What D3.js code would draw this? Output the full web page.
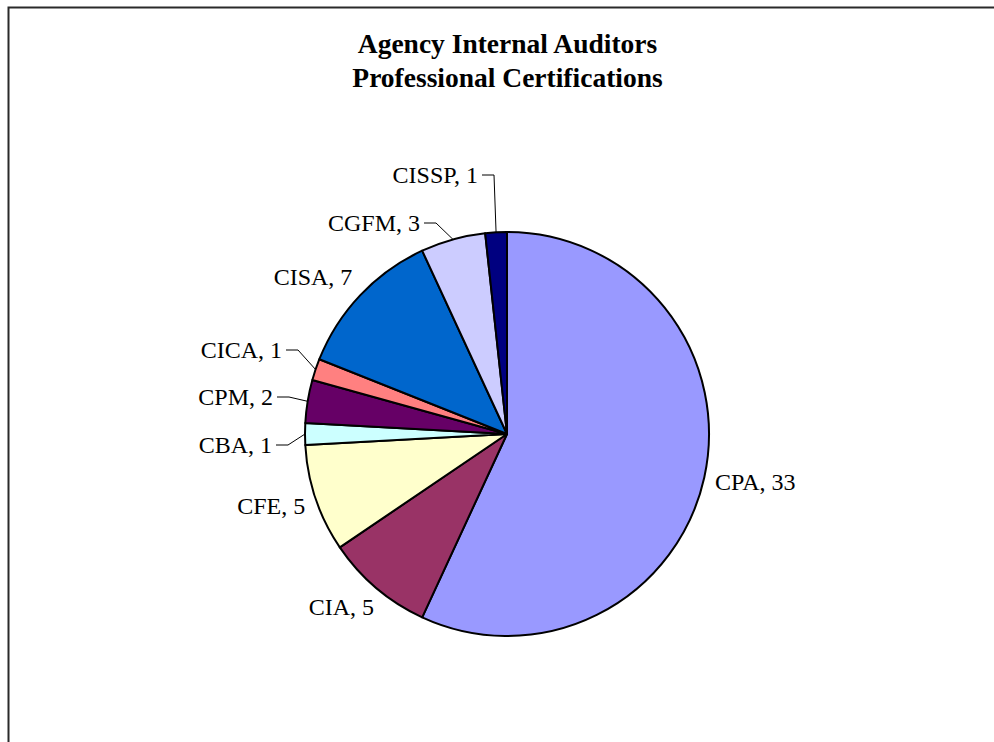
<!DOCTYPE html>
<html>
<head>
<meta charset="utf-8">
<script src="https://cdn.jsdelivr.net/npm/d3@7"></script>
<style>
  html, body { margin: 0; padding: 0; background: #fff; }
  svg { display: block; }
  text { font-family: "Liberation Serif", "Times New Roman", serif; fill: #000; }
</style>
</head>
<body>
<svg id="chart" width="994" height="742"></svg>
<script>
// Certification counts, in slice order (clockwise from 12 o'clock)
const categories = ["CPA", "CIA", "CFE", "CBA", "CPM", "CICA", "CISA", "CGFM", "CISSP"];
const counts     = [33, 5, 5, 1, 2, 1, 7, 3, 1];
const colors     = ["#9999FF", "#993366", "#FFFFCC", "#CCFFFF", "#660066", "#FF8080", "#0066CC", "#CCCCFF", "#000080"];
const titleLines = ["Agency Internal Auditors", "Professional Certifications"];

// Labels that were pulled away from their slices get a leader line;
// value = right end of the label text relative to the pie centre.
const pulledLabels = {
  CBA:   [-235, 11],
  CPM:   [-234, -37],
  CICA:  [-225, -84],
  CGFM:  [-87, -211],
  CISSP: [-29, -259]
};

const svg = d3.select("#chart");
const W = 994, H = 742;
const cx = 507, cy = 434, radius = 202;

// chart-area frame (runs off the right and bottom edges)
svg.append("rect")
  .attr("x", 8.5).attr("y", 7.5)
  .attr("width", 1000).attr("height", 800)
  .attr("fill", "none").attr("stroke", "#2a2a2a").attr("stroke-width", 2);

// title
svg.append("g").selectAll("text").data(titleLines).join("text")
  .attr("x", 507.5)
  .attr("y", (d, i) => 53 + i * 34)
  .attr("text-anchor", "middle")
  .attr("font-size", 27.5)
  .attr("font-weight", "bold")
  .text(d => d);

const data = categories.map((c, i) => ({ name: c, value: counts[i], color: colors[i] }));
const pie = d3.pie().value(d => d.value).sort(null);
const arcs = pie(data);
const arc = d3.arc().innerRadius(0).outerRadius(radius);

const g = svg.append("g").attr("transform", `translate(${cx},${cy})`);

g.selectAll("path.slice").data(arcs).join("path")
  .attr("class", "slice")
  .attr("d", arc)
  .attr("fill", d => d.data.color)
  .attr("stroke", "#000")
  .attr("stroke-width", 2)
  .attr("stroke-linejoin", "round");

// data labels
const fontSize = 24;
const lab = g.append("g");
arcs.forEach(a => {
  const mid = (a.startAngle + a.endAngle) / 2;
  const dx = Math.sin(mid), dy = -Math.cos(mid);
  const t = lab.append("text")
    .attr("font-size", fontSize)
    .text(`${a.data.name}, ${a.data.value}`);
  const w = t.node().getComputedTextLength();
  const h = 22;
  const pulled = pulledLabels[a.data.name];
  if (pulled) {
    const [rx, ry] = pulled;
    t.attr("x", rx).attr("y", ry + 8).attr("text-anchor", "end");
    // leader: short horizontal tick, then to the slice's outer midpoint
    const ex = dx * radius, ey = dy * radius;
    lab.append("path")
      .attr("d", d3.line()([[rx + 4, ry], [rx + 16, ry], [ex, ey]]))
      .attr("fill", "none").attr("stroke", "#000").attr("stroke-width", 1);
  } else {
    const R = radius + 11;
    const ax = dx * R, ay = dy * R;
    const m = Math.max(Math.abs(dx), Math.abs(dy));
    const centerX = ax + (w / 2) * dx / m;
    const centerY = ay + (h / 2) * dy / m;
    t.attr("x", centerX).attr("y", centerY + 8).attr("text-anchor", "middle");
  }
});
</script>
</body>
</html>
